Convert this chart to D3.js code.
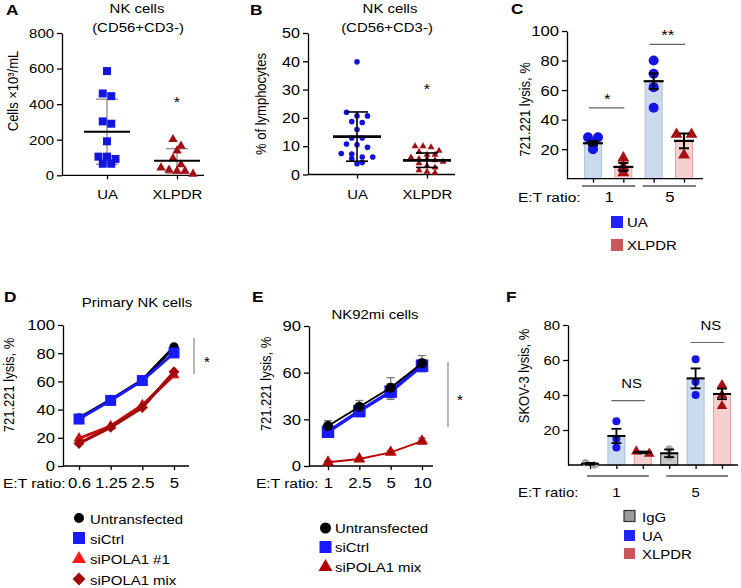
<!DOCTYPE html>
<html><head><meta charset="utf-8">
<script src="https://cdn.jsdelivr.net/npm/d3@7"></script>
<style>body{margin:0;background:#fff} svg{display:block}</style>
</head><body><svg id="c" width="741" height="588"></svg>
<script>
// ================= DATA =================
// Panel A
const A_groups = ["UA", "XLPDR"];
const A_UA = [586, 460, 445, 303, 290, 191, 105, 92, 105, 65, 65];
const A_XL = [202, 165, 138, 95, 60, 43, 30, 24, 24, 7];
const A_mean = [245, 82];
const A_sdLow = [62, 12];
const A_sdHigh = [428, 150];
const A_ticks = [0, 200, 400, 600, 800];
// Panel B
const B_groups = ["UA", "XLPDR"];
const B_UA = [39.8, 22, 20.7, 20.7, 18.7, 18.4, 15.9, 12.9, 12.9, 10.8, 10.5, 9.6, 7.4, 7.2, 6.2, 6.2, 5.6, 4.2, 3.8];
const B_XL = [10, 10, 9.6, 8.4, 8, 7, 7, 6, 5.5, 5.5, 5, 4.5, 4, 3, 2.5, 1.5, 1, 0.6];
const B_mean = [13.4, 5.0];
const B_errLow = [4.7, 2.5];
const B_errHigh = [22.1, 7.6];
const B_ticks = [0, 10, 20, 30, 40, 50];
// Panel C
const C_groups = ["1", "5"];
const C_series = ["UA", "XLPDR"];
const C_UA_mean = [24, 66];
const C_UA_sem = [1.5, 5.3];
const C_UA_pts = [[28, 28, 24, 20], [80, 71, 62, 48]];
const C_XL_mean = [8, 25.6];
const C_XL_sem = [2.7, 5];
const C_XL_pts = [[14, 8, 4], [30, 30, 16]];
const C_sig = ["*", "**"];
const C_sigY = [48, 91];
const C_ticks = [20, 40, 60, 80, 100];
// Panel D
const D_x = ["0.6", "1.25", "2.5", "5"];
const D_untr = [34, 47, 61, 84.4];
const D_sictrl = [33.3, 46.5, 60.6, 80.2];
const D_si1 = [19.6, 28.3, 43.2, 64.4];
const D_mix = [16, 27.4, 41.5, 66.8];
const D_ticks = [0, 20, 40, 60, 80, 100];
const D_sigRange = [65, 91];
// Panel E
const E_x = ["1", "2.5", "5", "10"];
const E_untr = [25.7, 38.1, 50.3, 66];
const E_untrErr = [3.5, 4, 6.5, 5];
const E_sictrl = [22, 35.3, 47.8, 64.5];
const E_sictrlErr = [3, 3.5, 5, 4];
const E_mix = [2.4, 4.5, 8.8, 16];
const E_mixErr = [0.8, 1, 1, 2];
const E_ticks = [0, 30, 60, 90];
const E_sigRange = [25, 67];
// Panel F
const F_groups = ["1", "5"];
const F_series = ["IgG", "UA", "XLPDR"];
const F_IgG_mean = [0.7, 6.7];
const F_IgG_sem = [0.5, 2.2];
const F_IgG_pts = [[0, 1.3], [4.8, 9.1]];
const F_UA_mean = [16.6, 49.5];
const F_UA_sem = [4.1, 5.7];
const F_UA_pts = [[25, 15, 10], [60.4, 47.6, 40]];
const F_XL_mean = [7.2, 40.6];
const F_XL_sem = [0.5, 3];
const F_XL_pts = [[6.5, 7.8], [45.7, 40, 33.7]];
const F_sig = ["NS", "NS"];
const F_sigY = [36.8, 70];
const F_ticks = [20, 40, 60, 80];

// ================= HELPERS =================
const SX = 1.15;
const FF = '"Liberation Sans", Arial, Helvetica, sans-serif';
const svg = d3.select("#c");

function T(g, x, y, s, o = {}) {
  return g.append("text")
    .attr("transform", `translate(${x},${y}) scale(${SX},1)` + (o.rot ? " rotate(-90)" : ""))
    .attr("font-family", FF).attr("font-size", o.fs || 13)
    .attr("font-weight", o.bold ? "bold" : "normal")
    .attr("text-anchor", o.anchor || "start").attr("fill", o.fill || "#000").text(s);
}
function yAxis(g, y, x, ticks, fs) {
  const a = g.append("g").attr("transform", `translate(${x},0)`)
    .call(d3.axisLeft(y).tickValues(ticks).tickSize(5).tickSizeOuter(0));
  a.select(".domain").attr("stroke", "#000").attr("stroke-width", 1.3);
  a.selectAll(".tick line").attr("stroke", "#000").attr("stroke-width", 1.3);
  a.selectAll(".tick text").attr("x", 0).attr("dy", "0.34em")
    .attr("transform", `translate(-8,0) scale(${SX},1)`)
    .attr("font-size", fs).attr("font-family", FF).attr("fill", "#000");
}
function catAxis(g, x, y0, x0, x1, fs, baseline, labels = true) {
  g.append("line").attr("x1", x0).attr("x2", x1).attr("y1", y0).attr("y2", y0)
    .attr("stroke", "#000").attr("stroke-width", 1.3);
  const a = g.append("g").attr("transform", `translate(0,${y0})`)
    .call(d3.axisBottom(x).tickSize(4).tickSizeOuter(0));
  a.select(".domain").remove();
  a.selectAll(".tick line").attr("stroke", "#000").attr("stroke-width", 1.3);
  if (!labels) { a.selectAll(".tick text").remove(); return; }
  a.selectAll(".tick text").attr("y", 0).attr("dy", null)
    .attr("transform", `translate(0,${baseline - y0}) scale(${SX},1)`)
    .attr("font-size", fs).attr("font-family", FF).attr("fill", "#000");
}
function symPath(type, px) {
  if (type === "circle") return d3.symbol(d3.symbolCircle, Math.PI * px * px / 4)();
  if (type === "square") return d3.symbol(d3.symbolSquare, px * px)();
  if (type === "diamond") return d3.symbol(d3.symbolSquare, px * px / 2)();
  return d3.symbol(d3.symbolTriangle, Math.sqrt(3) / 4 * px * px)();
}
function mark(g, type, x, y, px, fill, stroke, sw) {
  g.append("path").attr("d", symPath(type, px))
    .attr("transform", `translate(${x},${y})` + (type === "diamond" ? " rotate(45)" : ""))
    .attr("fill", fill).attr("stroke", stroke || "none").attr("stroke-width", sw || 1);
}
function scatterGroup(g, vals, y, cx, type, px, color, gap, thresh) {
  const pts = vals.map(v => ({ v, py: y(v) })).sort((a, b) => a.py - b.py);
  const rows = []; let cur = null;
  pts.forEach(p => { if (!cur || p.py - cur[0].py >= thresh) { cur = [p]; rows.push(cur); } else cur.push(p); });
  rows.forEach(r => r.forEach((p, i) => { p.dx = (i - (r.length - 1) / 2) * gap; }));
  pts.forEach(p => mark(g, type, cx + p.dx, p.py, px, color));
}
function vline(g, x, y1, y2, c, w) {
  g.append("line").attr("x1", x).attr("x2", x).attr("y1", y1).attr("y2", y2).attr("stroke", c).attr("stroke-width", w);
}
function hline(g, x1, x2, y, c, w) {
  g.append("line").attr("x1", x1).attr("x2", x2).attr("y1", y).attr("y2", y).attr("stroke", c).attr("stroke-width", w);
}
function errBar(g, cx, y, lo, hi, cw, c, w) {
  vline(g, cx, y(lo), y(hi), c, w);
  hline(g, cx - cw, cx + cw, y(lo), c, w);
  hline(g, cx - cw, cx + cw, y(hi), c, w);
}

// ================= PANEL LABELS =================
[["A", 6, 15], ["B", 250, 15], ["C", 511, 14], ["D", 4, 302], ["E", 252, 302], ["F", 506, 302]]
  .forEach(d => T(svg, d[1], d[2], d[0], { fs: 15, bold: true }));

// ================= PANEL A =================
const gA = svg.append("g");
const yA = d3.scaleLinear().domain([0, 800]).range([175.3, 33]);
const xA = d3.scalePoint().domain(A_groups).range([107, 177]);
yAxis(gA, yA, 62, A_ticks, 13);
catAxis(gA, xA, 175.3, 62, 204, 13, 199);
T(gA, 137, 13, "NK cells", { anchor: "middle" });
T(gA, 138, 32, "(CD56+CD3-)", { anchor: "middle" });
T(gA, 18, 91, "Cells ×10³/mL", { rot: true, anchor: "middle" });
A_groups.forEach((k, i) => errBar(gA, xA(k), yA, A_sdLow[i], A_sdHigh[i], 11, "#8a8a8a", 1.3));
scatterGroup(gA, A_UA, yA, xA("UA"), "square", 8, "#1414e0", 8.5, 6.5);
scatterGroup(gA, A_XL, yA, xA("XLPDR"), "triangle", 9.5, "#a10f14", 8, 7.5);
A_groups.forEach((k, i) => hline(gA, xA(k) - 23, xA(k) + 23, yA(A_mean[i]), "#000", 2));
T(gA, xA("XLPDR"), yA(430) + 8, "*", { fs: 14, anchor: "middle" });

// ================= PANEL B =================
const gB = svg.append("g");
const yB = d3.scaleLinear().domain([0, 50]).range([174.5, 33]);
const xB = d3.scalePoint().domain(B_groups).range([357, 427]);
yAxis(gB, yB, 308, B_ticks, 14);
catAxis(gB, xB, 174.5, 308, 455, 13, 199);
T(gB, 390, 13, "NK cells", { anchor: "middle" });
T(gB, 387, 32, "(CD56+CD3-)", { anchor: "middle" });
T(gB, 266, 104, "% of lymphocytes", { rot: true, anchor: "middle" });
scatterGroup(gB, B_UA, yB, xB("UA"), "circle", 5.6, "#1212e0", 10.5, 5);
scatterGroup(gB, B_XL, yB, xB("XLPDR"), "triangle", 7, "#a10f14", 8, 5);
B_groups.forEach((k, i) => {
  errBar(gB, xB(k), yB, B_errLow[i], B_errHigh[i], 11, "#000", 1.6);
  hline(gB, xB(k) - 24, xB(k) + 24, yB(B_mean[i]), "#000", 2.6);
});
T(gB, xB("XLPDR"), yB(31.3) + 8, "*", { fs: 14, anchor: "middle" });

// ================= PANEL C =================
const gC = svg.append("g");
const yC = d3.scaleLinear().domain([0, 100]).range([178.7, 31]);
const keysC = C_groups.flatMap(gr => C_series.map(s => s + gr));
const xC = d3.scalePoint().domain(keysC).range([593, 684]);
const colC = { UA: { fill: "#cbdaec", stroke: "#aec3de", pt: "#1414e6", type: "circle", px: 10, gap: 10 },
               XLPDR: { fill: "#f4d0d0", stroke: "#e0a2a2", pt: "#a50f12", type: "triangle", px: 12, gap: 15 } };
const cMeans = { UA: C_UA_mean, XLPDR: C_XL_mean }, cSems = { UA: C_UA_sem, XLPDR: C_XL_sem }, cPts = { UA: C_UA_pts, XLPDR: C_XL_pts };
C_groups.forEach((gr, gi) => C_series.forEach(s => {
  const cx = xC(s + gr);
  gC.append("rect").attr("x", cx - 8.5).attr("width", 17).attr("y", yC(cMeans[s][gi]))
    .attr("height", yC(0) - yC(cMeans[s][gi])).attr("fill", colC[s].fill).attr("stroke", colC[s].stroke);
}));
yAxis(gC, yC, 567, C_ticks, 14.5);
catAxis(gC, xC, 178.7, 567, 703, 14, 0, false);
C_groups.forEach((gr, gi) => C_series.forEach(s => {
  const cx = xC(s + gr);
  scatterGroup(gC, cPts[s][gi], yC, cx, colC[s].type, colC[s].px, colC[s].pt, colC[s].gap, 5);
  errBar(gC, cx, yC, cMeans[s][gi] - cSems[s][gi], cMeans[s][gi] + cSems[s][gi], 5, "#000", 2);
  hline(gC, cx - 10, cx + 10, yC(cMeans[s][gi]), "#000", 2.2);
}));
C_groups.forEach((gr, gi) => {
  const a = xC("UA" + gr), b = xC("XLPDR" + gr);
  hline(gC, a - 11, b + 12, 186, "#000", 1.2);
  T(gC, (a + b) / 2 + 1, 201.5, gr, { fs: 14.5, anchor: "middle" });
  hline(gC, a - 4, b + 1, yC(C_sigY[gi]), "#666", 1.2);
  T(gC, (a + b) / 2 - 1, yC(C_sigY[gi]) - 4, C_sig[gi], { fs: 14.5, anchor: "middle" });
});
T(gC, 518, 201.5, "E:T ratio:", { fs: 13.5 });
T(gC, 530, 109.5, "721.221 lysis, %", { rot: true, anchor: "middle" });
[["UA", "#2323ff", 222, 226.7], ["XLPDR", "#c8585a", 245, 249.5]].forEach(d => {
  gC.append("rect").attr("x", 611).attr("y", d[2] - 6).attr("width", 12).attr("height", 12).attr("fill", d[1]);
  T(gC, 627, d[3], d[0]);
});

// ================= PANEL D =================
const gD = svg.append("g");
const yD = d3.scaleLinear().domain([0, 100]).range([466, 325]);
const xD = d3.scalePoint().domain(D_x).range([79, 174]);
yAxis(gD, yD, 63, D_ticks, 14.5);
catAxis(gD, xD, 466, 63, 189, 14.5, 488);
T(gD, 3, 488, "E:T ratio:", { fs: 13.5 });
T(gD, 137, 307, "Primary NK cells", { anchor: "middle" });
T(gD, 14, 385, "721.221 lysis, %", { rot: true, anchor: "middle" });
const lineD = d3.line().x((d, i) => xD(D_x[i])).y(d => yD(d));
const D_series = [
  { v: D_untr, c: "#000", lw: 3, type: "circle", px: 9.5, mc: "#000" },
  { v: D_sictrl, c: "#1a1aff", lw: 3, type: "square", px: 11, mc: "#1a1aff" },
  { v: D_si1, c: "#c81010", lw: 3, type: "triangle", px: 11, mc: "#c81010" },
  { v: D_mix, c: "#a00a0a", lw: 3, type: "diamond", px: 11, mc: "#a00a0a" }
];
D_series.forEach(s => {
  gD.append("path").attr("d", lineD(s.v)).attr("fill", "none").attr("stroke", s.c).attr("stroke-width", s.lw);
  s.v.forEach((v, i) => mark(gD, s.type, xD(D_x[i]), yD(v), s.px, s.mc));
});
vline(gD, 194, yD(D_sigRange[0]), yD(D_sigRange[1]), "#888", 1.2);
T(gD, 207, 367, "*", { fs: 14, anchor: "middle" });
const D_leg = [["Untransfected", "circle", "#000", 10, 518, 524], ["siCtrl", "square", "#1a1aff", 12, 538, 544],
  ["siPOLA1 #1", "triangle", "#ff1a1a", 14, 559, 564], ["siPOLA1 mix", "diamond", "#a00a0a", 13, 579, 585]];
D_leg.forEach(d => { mark(gD, d[1], 79, d[4], d[3], d[2]); T(gD, 90, d[5], d[0]); });

// ================= PANEL E =================
const gE = svg.append("g");
const yE = d3.scaleLinear().domain([0, 90]).range([466, 326]);
const xE = d3.scalePoint().domain(E_x).range([328, 422]);
yAxis(gE, yE, 309, E_ticks, 14.5);
catAxis(gE, xE, 466, 309, 433, 14.5, 488);
T(gE, 256, 488, "E:T ratio:", { fs: 13.5 });
T(gE, 375, 319, "NK92mi cells", { anchor: "middle" });
T(gE, 271, 384, "721.221 lysis, %", { rot: true, anchor: "middle" });
const lineE = d3.line().x((d, i) => xE(E_x[i])).y(d => yE(d));
const E_series = [
  { v: E_mix, e: E_mixErr, c: "#c00000", lw: 1.8, type: "triangle", px: 12, mc: "#b00000" },
  { v: E_sictrl, e: E_sictrlErr, c: "#1a1aff", lw: 3.5, type: "square", px: 12.5, mc: "#1a1aff" },
  { v: E_untr, e: E_untrErr, c: "#000", lw: 2, type: "circle", px: 10, mc: "#000" }
];
E_series.forEach(s => s.v.forEach((v, i) => errBar(gE, xE(E_x[i]), yE, v - s.e[i], v + s.e[i], 4, "#7a7a7a", 1.3)));
E_series.forEach(s => {
  gE.append("path").attr("d", lineE(s.v)).attr("fill", "none").attr("stroke", s.c).attr("stroke-width", s.lw);
  s.v.forEach((v, i) => mark(gE, s.type, xE(E_x[i]), yE(v), s.px, s.mc));
});
vline(gE, 448, yE(E_sigRange[0]), yE(E_sigRange[1]), "#888", 1.2);
T(gE, 460, 405, "*", { fs: 14, anchor: "middle" });
const E_leg = [["Untransfected", "circle", "#000", 11, 528, 533], ["siCtrl", "square", "#1a1aff", 12, 547, 552],
  ["siPOLA1 mix", "triangle", "#b00000", 14, 567, 572]];
E_leg.forEach(d => { mark(gE, d[1], 325.5, d[4], d[3], d[2]); T(gE, 335, d[5], d[0]); });

// ================= PANEL F =================
const gF = svg.append("g");
const yF = d3.scaleLinear().domain([0, 80]).range([465, 325]);
const keysF = F_groups.flatMap(gr => F_series.map(s => s + gr));
const xF = d3.scalePoint().domain(keysF).range([590, 722]);
const colF = {
  IgG: { fill: "#c6c6c6", stroke: "#444", pt: "#a9a9a9", type: "circle", px: 7.5, gap: 9 },
  UA: { fill: "#cbdaec", stroke: "#aec3de", pt: "#1414e6", type: "circle", px: 8, gap: 9 },
  XLPDR: { fill: "#f4d0d0", stroke: "#e0a2a2", pt: "#a50f12", type: "triangle", px: 10.5, gap: 13 }
};
const fMeans = { IgG: F_IgG_mean, UA: F_UA_mean, XLPDR: F_XL_mean };
const fSems = { IgG: F_IgG_sem, UA: F_UA_sem, XLPDR: F_XL_sem };
const fPts = { IgG: F_IgG_pts, UA: F_UA_pts, XLPDR: F_XL_pts };
F_groups.forEach((gr, gi) => F_series.forEach(s => {
  const cx = xF(s + gr);
  gF.append("rect").attr("x", cx - 8.5).attr("width", 17).attr("y", yF(fMeans[s][gi]))
    .attr("height", yF(0) - yF(fMeans[s][gi])).attr("fill", colF[s].fill).attr("stroke", colF[s].stroke).attr("stroke-width", 1.1);
}));
yAxis(gF, yF, 568, F_ticks, 13);
catAxis(gF, xF, 465, 568, 738, 13, 0, false);
F_groups.forEach((gr, gi) => F_series.forEach(s => {
  const cx = xF(s + gr);
  scatterGroup(gF, fPts[s][gi], yF, cx, colF[s].type, colF[s].px, colF[s].pt, colF[s].gap, 5);
  errBar(gF, cx, yF, fMeans[s][gi] - fSems[s][gi], fMeans[s][gi] + fSems[s][gi], 5, "#000", 1.8);
  hline(gF, cx - 9, cx + 9, yF(fMeans[s][gi]), "#000", 2);
}));
F_groups.forEach((gr, gi) => {
  const a = xF("IgG" + gr), u = xF("UA" + gr), b = xF("XLPDR" + gr);
  hline(gF, a - 3, b + 6, 476, "#000", 1.2);
  T(gF, u, 496.5, gr, { fs: 13, anchor: "middle" });
  hline(gF, u - 5, b + 2, yF(F_sigY[gi]), "#666", 1.2);
  T(gF, (u + b) / 2 + 2, yF(F_sigY[gi]) - 13, F_sig[gi], { fs: 13, anchor: "middle" });
});
T(gF, 518, 496.5, "E:T ratio:", { fs: 13 });
T(gF, 529, 376, "SKOV-3 lysis, %", { rot: true, anchor: "middle", fs: 13 });
[["IgG", "#9b9b9b", "#333", 516, 521.7], ["UA", "#2323ff", "none", 535.5, 541], ["XLPDR", "#c8585a", "none", 553.5, 559]].forEach(d => {
  gF.append("rect").attr("x", 624).attr("y", d[3] - 5.5).attr("width", 11).attr("height", 11)
    .attr("fill", d[1]).attr("stroke", d[2]).attr("stroke-width", 1.2);
  T(gF, 642, d[4], d[0]);
});
</script>
</body></html>
